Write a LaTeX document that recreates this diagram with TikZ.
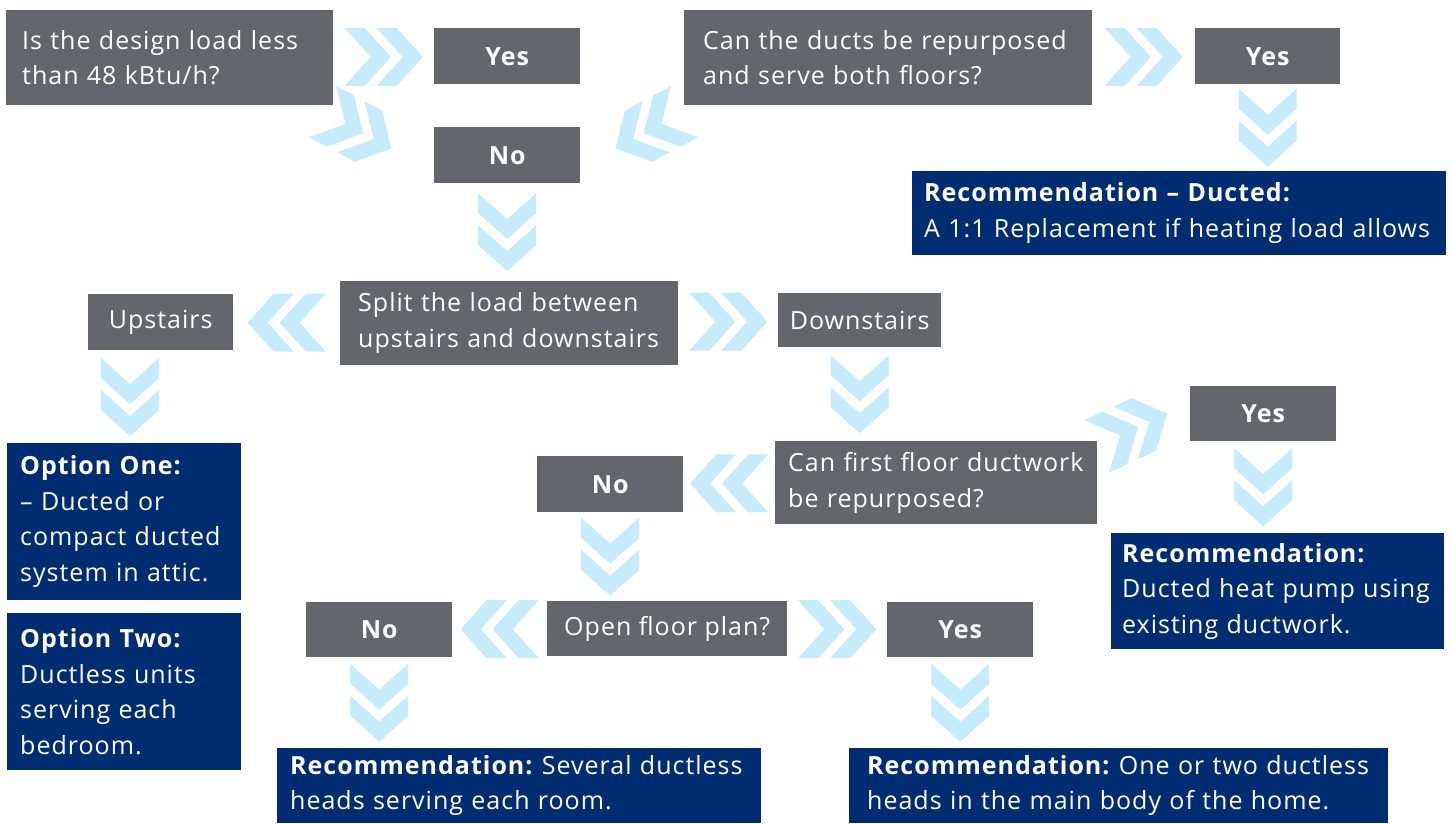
\documentclass[tikz,border=0pt]{standalone}
\usepackage{fontspec}
\setmainfont{Open Sans}[LetterSpace=4]
\usepackage{tikz}
\usetikzlibrary{calc}
\definecolor{boxgrey}{HTML}{63666A}
\definecolor{recnavy}{HTML}{002D72}
\definecolor{chevblue}{HTML}{C5EBFD}
\frenchspacing
\tikzset{
  dchev/.pic={
    \fill[chevblue] (-39,29) -- (-19,29) -- (7,0) -- (-19,-29) -- (-39,-29) -- (-13,0) -- cycle;
    \fill[chevblue] (-7,29) -- (13,29) -- (39,0) -- (13,-29) -- (-7,-29) -- (19,0) -- cycle;
  }
}
\begin{document}
\begin{tikzpicture}[x=1pt, y=1pt,
  every node/.style={anchor=north west, text=white, font=\fontsize{25}{35.5}\selectfont},
  ansbox/.style={fill=boxgrey, minimum width=146, minimum height=56, inner sep=0pt, font=\fontsize{25}{35}\selectfont\bfseries},
  qbox/.style={fill=boxgrey, align=left, inner ysep=0pt},
  recbox/.style={fill=recnavy, align=left, inner ysep=0pt}]
\useasboundingbox (0,0) rectangle (1452,-823);
% questions and answers
\node[qbox, minimum width=327, minimum height=95, inner xsep=16, text width=295] (q1) at (6,-10) {Is the design load less\\than 48 kBtu/h?};
\node[ansbox] (yesA) at (434,-28) {Yes};
\node[ansbox] (noA) at (434,-127) {No};
\node[qbox, minimum width=408, minimum height=95, inner xsep=19, text width=370] (q2) at (684,-10) {Can the ducts be repurposed\\and serve both floors?};
\node[ansbox, minimum width=145] (yesB) at (1195,-28) {Yes};
\node[recbox, minimum width=534, minimum height=84, inner xsep=12, text width=510] (recA) at (912,-171) {\textbf{Recommendation -- Ducted:}\\A 1:1 Replacement if heating load allows};
%
\node[qbox, minimum width=338, minimum height=84, inner xsep=18, text width=302] (split) at (340,-281) {Split the load between\\upstairs and downstairs};
\node[ansbox, font=\fontsize{25}{35}\selectfont, minimum width=145] (up) at (88,-294) {Upstairs};
\node[ansbox, font=\fontsize{25}{35}\selectfont, minimum width=163, minimum height=54] (down) at (778,-293) {Downstairs};
\node[recbox, minimum width=234, minimum height=157, inner xsep=13, text width=208] (optA) at (7,-443) {\textbf{Option One:}\\-- Ducted or\\compact ducted\\system in attic.};
\node[recbox, minimum width=234, minimum height=157, inner xsep=13, text width=208] (optB) at (7,-613) {\textbf{Option Two:}\\Ductless units\\serving each\\bedroom.};
%
\node[qbox, minimum width=322, minimum height=83, inner xsep=13, text width=296] (q3) at (775,-441) {Can first floor ductwork\\be repurposed?};
\node[ansbox] (noB) at (537,-456) {No};
\node[ansbox, minimum height=55] (yesC) at (1190,-386) {Yes};
\node[recbox, minimum width=333, minimum height=116, inner xsep=11, text width=311] (recB) at (1111,-533) {\textbf{Recommendation:}\\Ducted heat pump using\\existing ductwork.};
%
\node[qbox, align=center, minimum width=240, minimum height=55, inner sep=0pt] (open) at (547,-601) {Open floor plan?};
\node[ansbox, minimum height=55] (noC) at (306,-602) {No};
\node[ansbox, minimum height=55] (yesD) at (887,-602) {Yes};
\node[recbox, minimum width=484, minimum height=75, inner xsep=13, text width=458] (recC) at (277,-748) {\textbf{Recommendation:} Several ductless\\heads serving each room.};
\node[recbox, minimum width=539, minimum height=75, inner xsep=18, text width=503] (recD) at (849,-748) {\textbf{Recommendation:} One or two ductless\\heads in the main body of the home.};
% chevrons
\pic at ($(q1.east)!0.5!(yesA.west)$) {dchev};
\pic at ($(q2.east)!0.5!(yesB.west)$) {dchev};
\pic at ($(split.east)!0.5!(down.west)$) {dchev};
\pic at ($(open.east)!0.5!(yesD.west)$) {dchev};
\pic[rotate=180] at ($(up.east)!0.5!(split.west)$) {dchev};
\pic[rotate=180] at ($(noB.east)!0.5!(q3.west)$) {dchev};
\pic[rotate=180] at ($(noC.east)!0.5!(open.west)$) {dchev};
\pic[rotate=-90] at ($(noA.south)!0.5!(split.north -| noA.south)$) {dchev};
\pic[rotate=-90] at ($(yesB.south)!0.5!(recA.north -| yesB.south)$) {dchev};
\pic[rotate=-90] at (130,-397) {dchev};
\pic[rotate=-90] at ($(down.south)!0.5!(q3.north -| down.south)$) {dchev};
\pic[rotate=-90] at ($(noB.south)!0.5!(open.north -| noB.south)$) {dchev};
\pic[rotate=-90] at ($(yesC.south)!0.5!(recB.north -| yesC.south)$) {dchev};
\pic[rotate=-90] at ($(noC.south)!0.5!(recC.north -| noC.south)$) {dchev};
\pic[rotate=-90] at ($(yesD.south)!0.5!(recD.north -| yesD.south)$) {dchev};
\pic[rotate=-28] at (357,-130) {dchev};
\pic[rotate=-152] at (650,-130) {dchev};
\pic[rotate=25] at (1132,-430) {dchev};
\end{tikzpicture}
\end{document}
